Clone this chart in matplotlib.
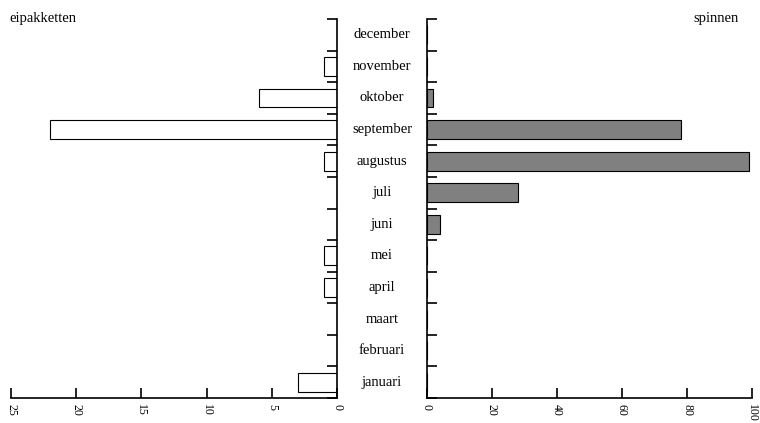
from matplotlib import pyplot as plt
from matplotlib import transforms
import numpy as np

plt.rcParams['font.family'] = ['Liberation Serif', 'DejaVu Serif']

# months from bottom to top
months = ["januari", "februari", "maart", "april", "mei", "juni",
          "juli", "augustus", "september", "oktober", "november", "december"]
eipakketten = [3, 0, 0, 1, 1, 0, 0, 1, 22, 6, 1, 0]
spinnen = [0, 0, 0, 0, 0, 4, 28, 99, 78, 2, 0, 0]

left_ticks = [0, 5, 10, 15, 20, 25]
right_ticks = [0, 20, 40, 60, 80, 100]

fig = plt.figure(figsize=(7.6, 4.23), dpi=100)
ax_l = fig.add_axes([0.0145, 0.059, 0.429, 0.896])
ax_r = fig.add_axes([0.5618, 0.059, 0.4277, 0.896])

y = np.arange(len(months))

ax_l.barh(y, eipakketten, height=0.6, color='white', edgecolor='black', linewidth=0.8)
ax_l.set_xlim(25, 0)
ax_r.barh(y, spinnen, height=0.6, color='#808080', edgecolor='black', linewidth=0.8)
ax_r.set_xlim(0, 100)

for ax, ticks in [(ax_l, left_ticks), (ax_r, right_ticks)]:
    ax.set_ylim(-0.5, len(months) - 0.5)
    ax.set_yticks(np.arange(-0.5, len(months), 1))
    ax.set_yticklabels([])
    ax.set_xticks(ticks)
    ax.set_xticklabels([str(t) for t in ticks], rotation=270, fontsize=8.5)
    ax.tick_params(axis='both', direction='in', length=7, width=1.2, pad=4)
    ax.spines['top'].set_visible(False)
    for s in ax.spines.values():
        s.set_linewidth(1.2)

ax_l.spines['left'].set_visible(False)
ax_l.yaxis.tick_right()
ax_l.tick_params(axis='y', direction='in')
ax_r.spines['right'].set_visible(False)

# month labels in the middle
trans = transforms.blended_transform_factory(fig.transFigure, ax_r.transData)
for i, m in enumerate(months):
    ax_r.text(0.5026, i, m, transform=trans, ha='center', va='center', fontsize=10.5)

fig.text(0.012, 0.957, "eipakketten", ha='left', va='center', fontsize=10.5)
fig.text(0.972, 0.957, "spinnen", ha='right', va='center', fontsize=10.5)

plt.savefig("out.png", dpi=100)
